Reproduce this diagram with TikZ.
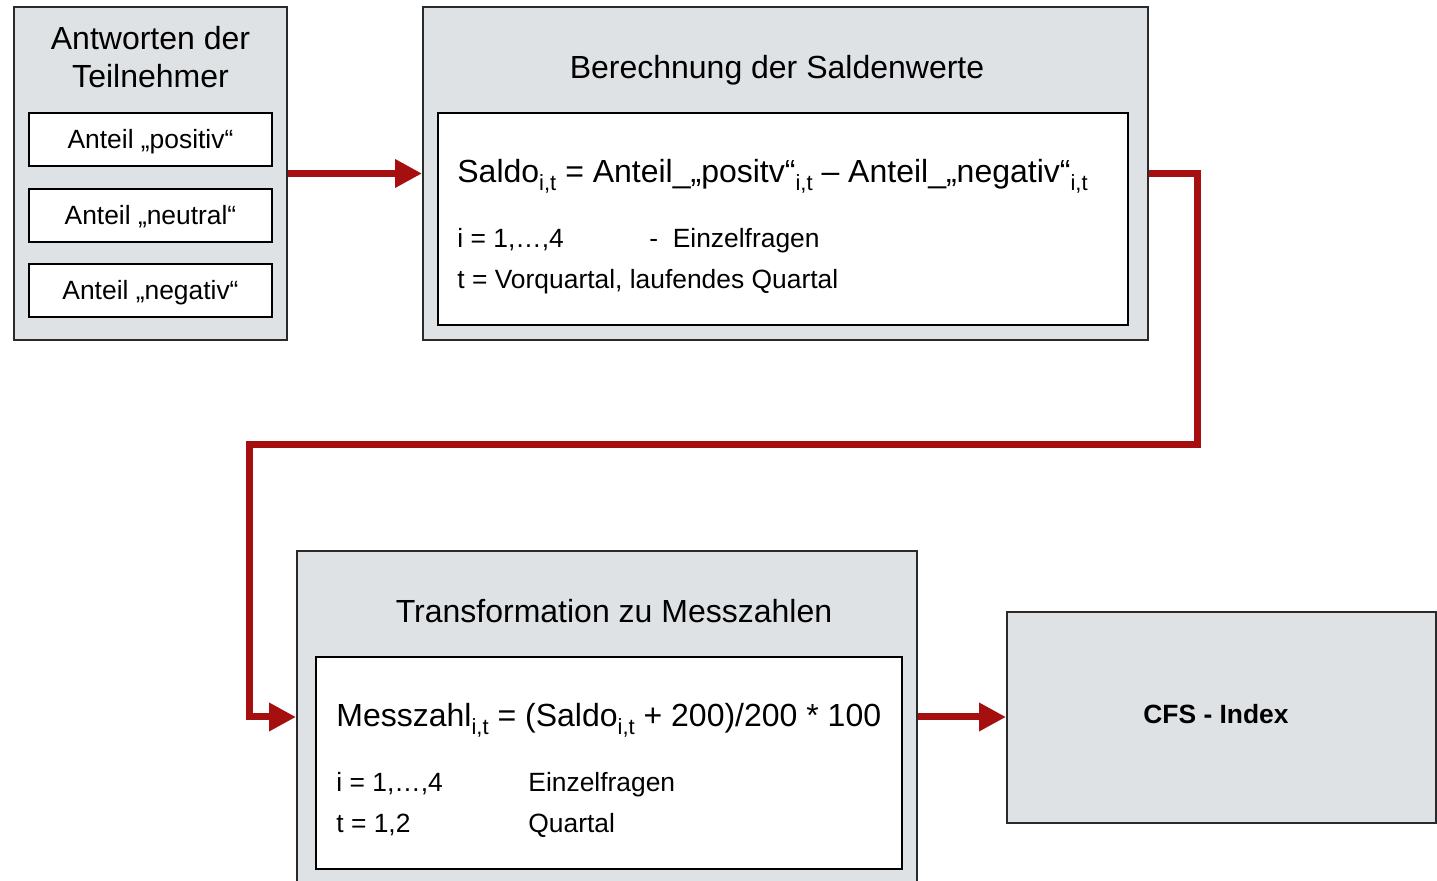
\documentclass[tikz,border=0pt]{standalone}
\usepackage{fontspec}
\setmainfont{Liberation Sans}
\usetikzlibrary{arrows.meta}
\definecolor{boxgrey}{HTML}{DEE2E5}
\definecolor{arrred}{HTML}{A50F0F}
\definecolor{edge}{HTML}{2A2A2A}
\newcommand\sbt[1]{\raisebox{-4pt}{\fontsize{11}{11}\selectfont #1}}
\tikzset{
  outerbox/.style={draw=edge, line width=1pt, fill=boxgrey, inner sep=0pt},
  innerbox/.style={draw=black, line width=1pt, fill=white, inner sep=0pt},
  titletext/.style={font=\fontsize{16}{19}\selectfont, align=center, inner sep=0pt},
  smalltext/.style={font=\fontsize{13.2}{15}\selectfont, inner sep=0pt},
  formtext/.style={font=\fontsize{16}{19}\selectfont, inner sep=0pt, anchor=base west},
  arr/.style={draw=arrred, line width=3.5pt, line join=miter,
    -{Triangle[length=13.5pt,width=13.5pt]}}
}
\begin{document}
\begin{tikzpicture}[x=0.5pt,y=-0.5pt]
\useasboundingbox (0,0) rectangle (1437,881);
\clip (0,0) rectangle (1437,881);
\fill[white] (0,0) rectangle (1437,881);

% Box A
\node[outerbox, minimum width=136.5pt, minimum height=166.5pt] (A) at (150.5,173.5) {};
\node[titletext] (Atitle) at (150.5,57) {Antworten der\\Teilnehmer};
\node[innerbox, smalltext, text depth=1pt, minimum width=121.5pt, minimum height=26.5pt] (A1) at (150.5,139.5) {Anteil „positiv“};
\node[innerbox, smalltext, text depth=1pt, minimum width=121.5pt, minimum height=26.5pt] (A2) at (150.5,215.5) {Anteil „neutral“};
\node[innerbox, smalltext, text depth=1pt, minimum width=121.5pt, minimum height=26.5pt] (A3) at (150.5,291) {Anteil „negativ“};

% Box B
\node[outerbox, minimum width=362.5pt, minimum height=166.5pt] (B) at (785.5,173.5) {};
\node[titletext, anchor=base] (Btitle) at (777,79) {Berechnung der Saldenwerte};
\node[innerbox, minimum width=345pt, minimum height=106pt] (Bin) at (783,219) {};
\node[formtext] (Bf) at (457,183) {Saldo\sbt{i,t} = Anteil\_„positv“\sbt{i,t} – Anteil\_„negativ“\sbt{i,t}};
\node[smalltext, anchor=base west] (Bi) at (457,248) {i = 1,…,4};
\node[smalltext, anchor=base west] (Bid) at (649,248) {-\ \ Einzelfragen};
\node[smalltext, anchor=base west] (Bt) at (457,289) {t = Vorquartal, laufendes Quartal};

% Box C
\node[outerbox, minimum width=310pt, minimum height=166pt] (C) at (607,717) {};
\node[titletext, anchor=base] (Ctitle) at (614,623) {Transformation zu Messzahlen};
\node[innerbox, minimum width=293pt, minimum height=106pt] (Cin) at (609,763) {};
\node[formtext] (Cf) at (336,727) {Messzahl\sbt{i,t} = (Saldo\sbt{i,t} + 200)/200 * 100};
\node[smalltext, anchor=base west] (Ci) at (336,792) {i = 1,…,4};
\node[smalltext, anchor=base west] (Cid) at (528,792) {Einzelfragen};
\node[smalltext, anchor=base west] (Ct) at (336,833) {t = 1,2};
\node[smalltext, anchor=base west] (Ctd) at (528,833) {Quartal};

% Box D
\node[outerbox, minimum width=214.5pt, minimum height=105.5pt] (D) at (1221.5,717.5) {};
\node[smalltext, font=\fontsize{13.2}{15}\selectfont\bfseries] (Dt) at (1216,714) {CFS - Index};

% Connectors
\coordinate (k1) at (1197,445);
\coordinate (k2) at (249,445);
\draw[arr] (A.east) -- (B.west);
\draw[arr] (B.east) -| (k1) -- (k2) |- (C.west);
\draw[arr] (C.east) -- (C.east -| D.west);
\end{tikzpicture}
\end{document}
